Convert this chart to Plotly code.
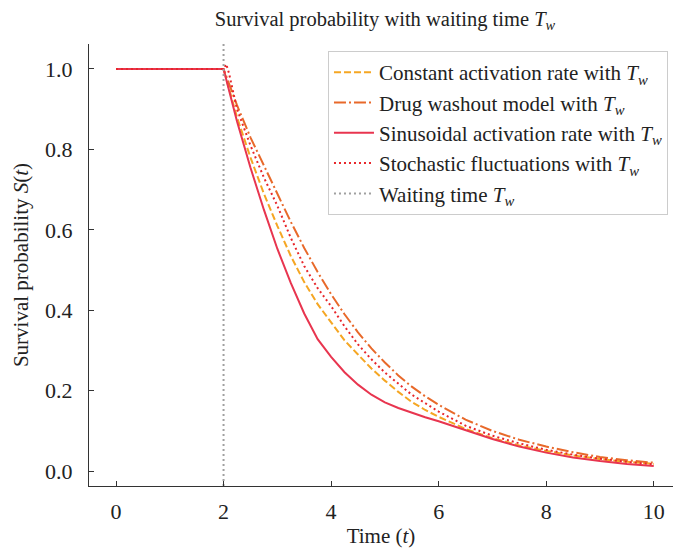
import plotly.graph_objects as go

# ---- data ----
t_vals = [0.0, 0.5, 1.0, 1.5, 2.0, 2.25, 2.5, 2.75, 3.0, 3.25, 3.5, 3.75, 4.0, 4.25, 4.5, 4.75,
          5.0, 5.25, 5.5, 5.75, 6.0, 6.5, 7.0, 7.5, 8.0, 8.5, 9.0, 9.5, 10.0]

constant = [1.0, 1.0, 1.0, 1.0, 1.0, 0.88, 0.78, 0.69, 0.61, 0.535, 0.47, 0.415, 0.37, 0.325, 0.29, 0.255,
            0.225, 0.197, 0.172, 0.152, 0.135, 0.105, 0.082, 0.064, 0.050, 0.039, 0.030, 0.023, 0.018]
drug = [1.0, 1.0, 1.0, 1.0, 1.0, 0.91, 0.83, 0.76, 0.69, 0.62, 0.555, 0.495, 0.44, 0.39, 0.345, 0.305,
        0.27, 0.238, 0.21, 0.186, 0.165, 0.128, 0.100, 0.078, 0.061, 0.047, 0.035, 0.027, 0.021]
sinusoidal = [1.0, 1.0, 1.0, 1.0, 1.0, 0.87, 0.755, 0.65, 0.553, 0.468, 0.392, 0.328, 0.284, 0.246, 0.215, 0.19,
              0.171, 0.157, 0.145, 0.134, 0.124, 0.102, 0.080, 0.061, 0.046, 0.034, 0.025, 0.018, 0.013]
t_stoch = [0.0, 0.5, 1.0, 1.5, 2.0, 2.05, 2.1, 2.25, 2.5, 2.75, 3.0, 3.25, 3.5, 3.75, 4.0, 4.25, 4.5, 4.75,
           5.0, 5.5, 6.0, 6.5, 7.0, 7.5, 8.0, 8.5, 9.0, 9.5, 10.0]
stochastic = [1.0, 1.0, 1.0, 1.0, 1.0, 1.012, 0.99, 0.90, 0.81, 0.73, 0.66, 0.58, 0.51, 0.455, 0.41, 0.36,
              0.315, 0.278, 0.245, 0.19, 0.148, 0.113, 0.088, 0.069, 0.053, 0.041, 0.031, 0.023, 0.017]
waiting_time = 2.0

x_ticks = [0, 2, 4, 6, 8, 10]
y_ticks = [0.0, 0.2, 0.4, 0.6, 0.8, 1.0]

TW = "<i>T</i><sub><i>w</i></sub>"
FONT = "Liberation Serif, Times New Roman, serif"
TXT = "#222222"

fig = go.Figure()
fig.add_trace(go.Scatter(x=t_vals, y=constant, mode="lines", name="Constant activation rate with " + TW,
                         line=dict(color="#F5A623", width=2, dash="7px,3px"), legendgroup="a"))
fig.add_trace(go.Scatter(x=t_vals, y=drug, mode="lines", name="Drug washout model with " + TW,
                         line=dict(color="#E8692A", width=2, dash="12px,3px,2px,3px"), legendgroup="b"))
fig.add_trace(go.Scatter(x=t_vals, y=sinusoidal, mode="lines", name="Sinusoidal activation rate with " + TW,
                         line=dict(color="#E8354F", width=2), legendgroup="c"))
fig.add_trace(go.Scatter(x=t_stoch, y=stochastic, mode="lines", name="Stochastic fluctuations with " + TW,
                         line=dict(color="#E8262A", width=2, dash="2px,3px"), legendgroup="d"))
fig.add_trace(go.Scatter(x=[waiting_time, waiting_time], y=[-0.037, 1.062], mode="lines",
                         name="Waiting time " + TW,
                         line=dict(color="#A0A0A0", width=2, dash="2px,3px"), legendgroup="e"))

axis_common = dict(showline=True, linecolor="#333333", linewidth=1.2, ticks="inside", ticklen=5,
                   tickwidth=1, tickcolor="#333333", showgrid=False, zeroline=False,
                   tickfont=dict(family=FONT, size=22, color=TXT))

fig.update_layout(
    width=673, height=548,
    margin=dict(l=89, r=0, t=44, b=62),
    paper_bgcolor="white", plot_bgcolor="white",
    font=dict(family=FONT, color=TXT),
    title=dict(text="Survival probability with waiting time " + TW, x=0.572, xref="container",
               xanchor="center", y=1 - 19 / 548, yref="container", yanchor="middle",
               font=dict(family=FONT, size=20.5, color=TXT)),
    xaxis=dict(range=[-0.502, 10.358], tickvals=x_ticks, ticktext=[str(v) for v in x_ticks],
               title=dict(text="Time (<i>t</i>)", font=dict(family=FONT, size=21, color=TXT), standoff=6),
               ticklabelstandoff=5, **axis_common),
    yaxis=dict(range=[-0.037, 1.062], tickvals=y_ticks, ticktext=[f"{v:.1f}" for v in y_ticks],
               title=dict(text="Survival probability <i>S</i>(<i>t</i>)", font=dict(family=FONT, size=21, color=TXT), standoff=10),
               ticklabelstandoff=11, **axis_common),
    legend=dict(x=0.9914, y=0.984, xanchor="right", yanchor="top", xref="paper", yref="paper",
                bgcolor="white", bordercolor="#CCCCCC", borderwidth=1,
                font=dict(family=FONT, size=21, color=TXT), itemwidth=40, tracegroupgap=0,
                traceorder="normal"),
    showlegend=True,
)

fig.write_html("out.html")
